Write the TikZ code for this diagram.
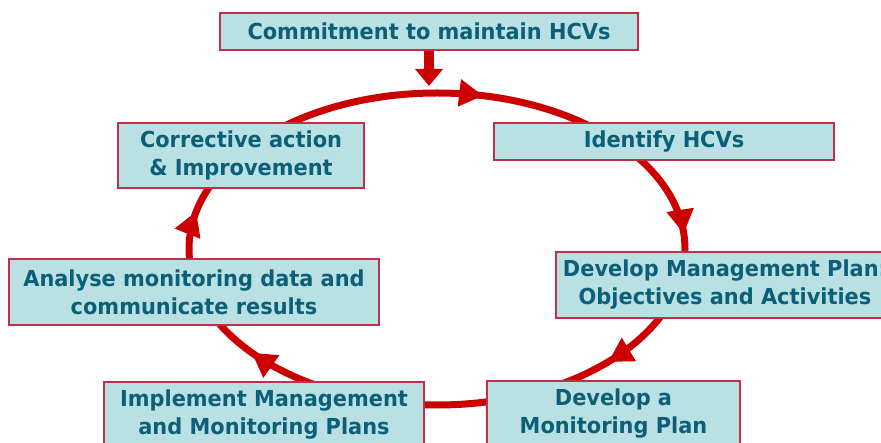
\documentclass[tikz,border=0pt]{standalone}
\usepackage{fontspec}
\setmainfont{DejaVu Sans}[FakeStretch=0.95]
\usetikzlibrary{arrows.meta,decorations.markings}
\definecolor{ringred}{HTML}{CC0000}
\definecolor{boxfill}{HTML}{B9E0E3}
\definecolor{boxline}{HTML}{C0304A}
\definecolor{boxtext}{HTML}{0B5F77}

\begin{document}
\begin{tikzpicture}[x=1pt,y=1pt,
	stepbox/.style={draw=boxline,line width=1.2pt,fill=boxfill,text=boxtext,font=\fontsize{22}{28}\selectfont\bfseries,align=center,inner sep=0pt},
	ring/.style={color=ringred,line width=7pt},
	>={Triangle[length=24pt,width=26pt]}]
	\newcommand{\RX}{248}
	\newcommand{\RY}{156}
	\useasboundingbox (0,0) rectangle (881,442);
	\draw[ring,postaction={decorate},decoration={markings,
		mark=at position 0.036 with {\arrow{>}},
		mark=at position 0.238 with {\arrow{>}},
		mark=at position 0.361 with {\arrow{>}},
		mark=at position 0.652 with {\arrow{>}},
		mark=at position 0.780 with {\arrow{>}}}]
		(437,349) arc[start angle=90,end angle=-270,x radius=\RX,y radius=\RY];
	\node[stepbox,minimum width=418,minimum height=37](commit) at (429,410.5){Commitment to maintain HCVs};
	\node[stepbox,minimum width=340,minimum height=37](identify) at (664,300.5){Identify HCVs};
	\node[stepbox,minimum width=338,minimum height=66](mgmt) at (725,157){Develop Management Plan:\\Objectives and Activities};
	\node[stepbox,minimum width=253,minimum height=66](monplan) at (613.5,28){Develop a\\Monitoring Plan};
	\node[stepbox,minimum width=320,minimum height=66](implement) at (264,27){Implement Management\\and Monitoring Plans};
	\node[stepbox,minimum width=370,minimum height=66](analyse) at (194,150){Analyse monitoring data and\\communicate results};
	\node[stepbox,minimum width=246,minimum height=65](corrective) at (241,286.5){Corrective action\\\& Improvement};
	\coordinate(entry) at (429,356);
	\draw[ring,line width=10pt,-{Triangle[length=17pt,width=27pt]}] (commit) -- (entry);
\end{tikzpicture}
\end{document}
